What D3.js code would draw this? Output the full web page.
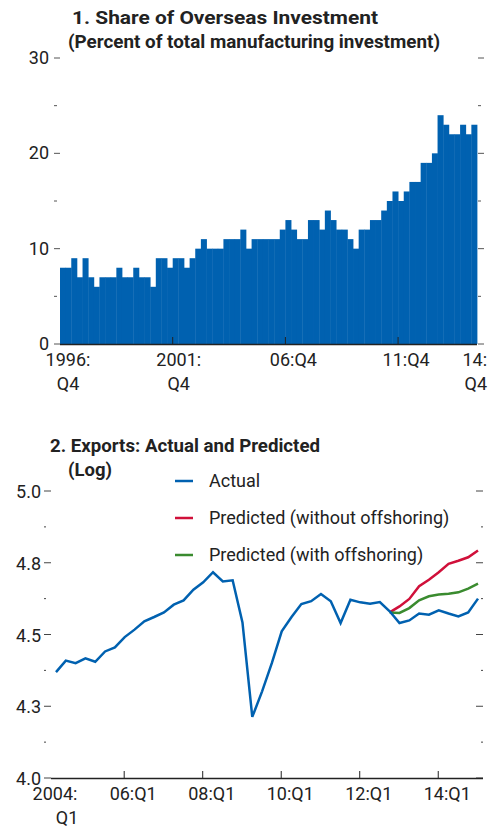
<!DOCTYPE html>
<html><head><meta charset="utf-8">
<script src="https://cdn.jsdelivr.net/npm/d3@7"></script>
<style>body{margin:0;background:#fff}text{font-family:"Liberation Sans Narrow","Roboto",sans-serif}</style>
</head><body><svg id="c" width="488" height="828"></svg>
<script>
// panel 1: share of overseas investment, 1996:Q4 - 2014:Q4
var shares = [8,8,9,7,9,7,6,7,7,7,8,7,7,8,7,7,6,9,9,8,9,9,8,9,10,11,10,10,10,11,11,11,12,10,11,11,
  11,11,11,12,13,12,11,11,13,13,12,14,13,12,12,11,10,12,12,13,13,14,15,16,15,16,17,17,19,19,20,24,23,22,22,23,22,23];
var topTicks = [0,10,20,30];
var topLabels = [{i:0,a:"1996:",b:"Q4"},{i:20,a:"2001:",b:"Q4"},{i:40,a:"06:Q4",b:""},{i:60,a:"11:Q4",b:""},{i:72,a:"14:",b:"Q4"}];

// panel 2: exports, 2004:Q1 onward
var actual = [4.369,4.409,4.400,4.417,4.405,4.441,4.455,4.491,4.517,4.546,4.561,4.577,4.604,4.619,4.656,4.682,
  4.717,4.685,4.689,4.542,4.213,4.302,4.401,4.511,4.561,4.606,4.616,4.641,4.616,4.540,4.621,4.612,4.607,4.613,
  4.581,4.540,4.549,4.573,4.569,4.584,4.573,4.563,4.577,4.625];
var predStart = 34;
var predNoOff = [4.577,4.598,4.624,4.668,4.691,4.717,4.746,4.757,4.769,4.793];
var predOff = [4.577,4.575,4.592,4.619,4.633,4.639,4.642,4.647,4.660,4.677];
var botTicks = [4.0,4.25,4.5,4.75,5.0];
var botTickLabels = ["4.0","4.3","4.5","4.8","5.0"];
var botX = [{i:7,t:"06:Q1"},{i:15,t:"08:Q1"},{i:23,t:"10:Q1"},{i:31,t:"12:Q1"},{i:39,t:"14:Q1"}];

var blue="#0061b0", red="#d0103a", green="#3a8b2f";
var svg=d3.select("#c");

function title(x,y,t,len){
  svg.append("text").attr("x",x).attr("y",y).attr("font-size",19).attr("font-weight","bold").attr("fill","#222")
    .attr("textLength",len).attr("lengthAdjust","spacingAndGlyphs").text(t);
}

// ---- panel 1
var x1=d3.scaleLinear().domain([0,shares.length]).range([60,477]);
var y1=d3.scaleLinear().domain([0,30]).range([344,58]);
title(72,24,"1. Share of Overseas Investment",306);
title(68,48,"(Percent of total manufacturing investment)",372);
svg.append("g").selectAll("rect").data(shares).join("rect")
  .attr("x",(d,i)=>x1(i)).attr("width",x1(1)-x1(0)+0.4)
  .attr("y",d=>y1(d)).attr("height",d=>y1(0)-y1(d)).attr("fill",blue);
d3.range(0,31,5).forEach(function(v){
  var w = v%10==0 ? 6 : 3;
  svg.append("line").attr("x1",54).attr("x2",54+w).attr("y1",y1(v)).attr("y2",y1(v)).attr("stroke","#555");
  svg.append("line").attr("x1",478).attr("x2",478+w).attr("y1",y1(v)).attr("y2",y1(v)).attr("stroke","#555");
});
topTicks.forEach(function(v){
  svg.append("text").attr("x",49).attr("y",y1(v)+6).attr("text-anchor","end").attr("font-size",18).attr("fill","#222").text(v);
});
svg.append("line").attr("x1",60).attr("x2",477).attr("y1",344.5).attr("y2",344.5).attr("stroke","#222").attr("stroke-width",1.5);
topLabels.forEach(function(l){
  var px=x1(l.i);
  if(l.i>0 && l.i<72) svg.append("line").attr("x1",px).attr("x2",px).attr("y1",337).attr("y2",344).attr("stroke","#222");
  var anchor = l.i==72 ? "end" : "middle", tx = l.i==72 ? 487 : (l.i==0 ? 68 : (l.b ? px+6 : px+8));
  svg.append("text").attr("x",tx).attr("y",366).attr("text-anchor",anchor).attr("font-size",18).attr("fill","#222").text(l.a);
  if(l.b) svg.append("text").attr("x",l.i==72?487:tx).attr("y",390).attr("text-anchor",anchor).attr("font-size",18).attr("fill","#222").text(l.b);
});

// ---- panel 2
var x2=d3.scaleLinear().domain([0,43]).range([56,478]);
var y2=d3.scaleLinear().domain([4,5]).range([778,491]);
title(50,452,"2. Exports: Actual and Predicted",270);
title(68,476,"(Log)",44);
d3.range(0,9).forEach(function(k){
  var v=4+k*0.125, w = k%2==0 ? 7 : 2;
  svg.append("line").attr("x1",44).attr("x2",44+w).attr("y1",y2(v)).attr("y2",y2(v)).attr("stroke","#444");
  svg.append("line").attr("x1",483-w).attr("x2",483).attr("y1",y2(v)).attr("y2",y2(v)).attr("stroke","#444");
});
botTicks.forEach(function(v,i){
  svg.append("text").attr("x",41).attr("y",y2(v)+7).attr("text-anchor","end").attr("font-size",18).attr("fill","#222").text(botTickLabels[i]);
});
svg.append("line").attr("x1",51).attr("x2",483).attr("y1",778.5).attr("y2",778.5).attr("stroke","#222").attr("stroke-width",1.5);
botX.forEach(function(l){
  var px=x2(l.i)-0.5;
  svg.append("line").attr("x1",px).attr("x2",px).attr("y1",771).attr("y2",778).attr("stroke","#222");
  svg.append("text").attr("x",px+9).attr("y",800).attr("text-anchor","middle").attr("font-size",18).attr("fill","#222").text(l.t);
});
svg.append("text").attr("x",55).attr("y",800).attr("text-anchor","middle").attr("font-size",18).attr("fill","#222").text("2004:");
svg.append("text").attr("x",67).attr("y",824).attr("text-anchor","middle").attr("font-size",18).attr("fill","#222").text("Q1");

var line=d3.line().x(d=>x2(d.i)).y(d=>y2(d.v));
function pts(arr,off){return arr.map((v,i)=>({i:i+off,v:v}));}
svg.append("path").datum(pts(predNoOff,predStart)).attr("d",line).attr("fill","none").attr("stroke",red).attr("stroke-width",2.5);
svg.append("path").datum(pts(predOff,predStart)).attr("d",line).attr("fill","none").attr("stroke",green).attr("stroke-width",2.5);
svg.append("path").datum(pts(actual,0)).attr("d",line).attr("fill","none").attr("stroke",blue).attr("stroke-width",2.5);

var legend=[{c:blue,t:"Actual"},{c:red,t:"Predicted (without offshoring)"},{c:green,t:"Predicted (with offshoring)"}];
legend.forEach(function(l,i){
  var ly=481+i*37;
  svg.append("line").attr("x1",175).attr("x2",193).attr("y1",ly).attr("y2",ly).attr("stroke",l.c).attr("stroke-width",2.5);
  svg.append("text").attr("x",209).attr("y",ly+6).attr("font-size",18).attr("fill","#222").text(l.t);
});
</script></body></html>
